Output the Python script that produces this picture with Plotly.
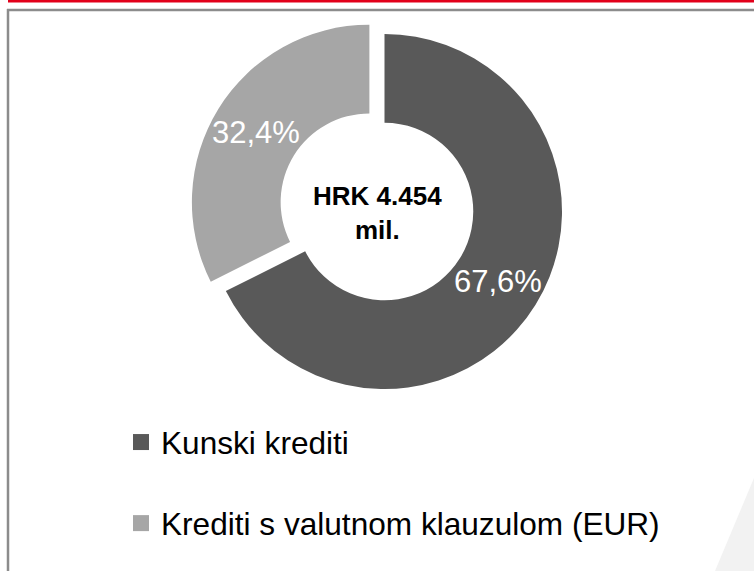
import math
import plotly.graph_objects as go

# ---- data ----
labels = ["Kunski krediti", "Krediti s valutnom klauzulom (EUR)"]
values = [67.6, 32.4]
center_title = "HRK 4.454<br>mil."

colors = ["#595959", "#a6a6a6"]
pulls = [0, 0.1]

W, H = 754, 571
FONT = "Liberation Sans, Arial, sans-serif"

def px_x(x):
    return x / W

def px_y(y):
    return 1 - y / H

# pie placement (pixel centre and radius)
cx, cy, R = 384.5, 211.5, 177.5
HOLE = 0.5
box = 2 * R * (1 + max(pulls))
dom_y = [px_y(cy + box / 2), px_y(cy - box / 2)]
half_w = 0.48
dom_x = [cx / W - half_w, cx / W + half_w]

fig = go.Figure()

fig.add_trace(go.Pie(
    labels=labels,
    values=values,
    sort=False,
    direction="clockwise",
    rotation=0,
    hole=HOLE,
    pull=pulls,
    marker=dict(colors=colors, line=dict(width=0)),
    textinfo="none",
    domain=dict(x=dom_x, y=dom_y),
    showlegend=False,
    hoverinfo="label+percent",
))

# slice percentage labels, placed at mid-angle in the ring (computed from values)
total = sum(values)
annotations = []
start = 0.0
for v, p in zip(values, pulls):
    frac = v / total
    mid = (start + frac / 2) * 2 * math.pi  # clockwise from 12 o'clock
    start += frac
    rr = R * (1 + HOLE) / 2 + p * R
    lx = cx + rr * math.sin(mid)
    ly = cy - rr * math.cos(mid)
    txt = f"{frac * 100:.1f}%".replace(".", ",")
    annotations.append(dict(
        x=px_x(lx), y=px_y(ly), xref="paper", yref="paper",
        text=txt, showarrow=False, xanchor="center", yanchor="middle",
        font=dict(family=FONT, size=31, color="white"),
    ))

# centre total
annotations.append(dict(
    x=px_x(377), y=px_y(213), xref="paper", yref="paper",
    text=center_title, showarrow=False, xanchor="center", yanchor="middle",
    font=dict(family=FONT, size=26, color="black", weight="bold"),
))

# legend entries
for lab, col in zip(labels, colors):
    fig.add_trace(go.Scatter(
        x=[None], y=[None], mode="markers",
        marker=dict(symbol="square", size=16, color=col, line=dict(width=0)),
        name=lab, legendgroup=lab, showlegend=True,
    ))

shapes = [
    # light diagonal decoration bottom-right
    dict(type="path", xref="paper", yref="paper", layer="below",
         path=f"M {px_x(715)} {px_y(571)} L {px_x(754)} {px_y(478)} L {px_x(754)} {px_y(571)} Z",
         fillcolor="#f2f2f2", line=dict(width=0)),
    # red top line
    dict(type="rect", xref="paper", yref="paper", layer="below",
         x0=px_x(8), x1=1, y0=px_y(2.5), y1=1,
         fillcolor="#e2001a", line=dict(width=0)),
    # grey frame (top and left)
    dict(type="line", xref="paper", yref="paper", layer="below",
         x0=px_x(7), x1=1, y0=px_y(10), y1=px_y(10),
         line=dict(color="#8c8c8c", width=2.5)),
    dict(type="line", xref="paper", yref="paper", layer="below",
         x0=px_x(8), x1=px_x(8), y0=px_y(9), y1=0,
         line=dict(color="#8c8c8c", width=2.5)),
]

fig.update_layout(
    width=W, height=H,
    margin=dict(l=0, r=0, t=0, b=0),
    paper_bgcolor="white",
    plot_bgcolor="white",
    separators=",.",
    font=dict(family=FONT, color="black"),
    xaxis=dict(visible=False),
    yaxis=dict(visible=False),
    shapes=shapes,
    annotations=annotations,
    legend=dict(
        x=px_x(121), y=px_y(415), xanchor="left", yanchor="top",
        font=dict(family=FONT, size=31.6, color="black"),
        tracegroupgap=37, bgcolor="rgba(0,0,0,0)",
        traceorder="grouped",
    ),
)

fig.write_html(
    "out.html",
    config={"displayModeBar": False},
    post_script="document.body.style.margin='0';document.body.style.padding='0';document.body.style.overflow='hidden';",
)
